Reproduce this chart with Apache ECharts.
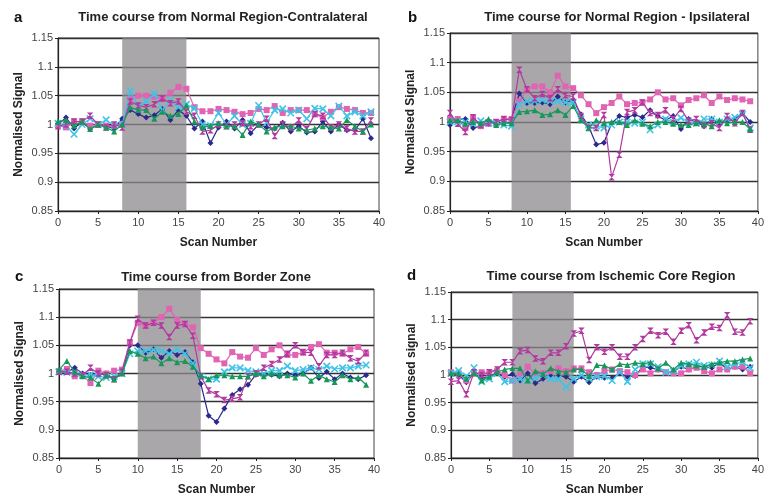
<!DOCTYPE html>
<html><head><meta charset="utf-8">
<script src="https://cdn.jsdelivr.net/npm/echarts@6/dist/echarts.min.js"></script>
<style>html,body{margin:0;padding:0;background:#fff}#c{width:767px;height:498px}</style>
</head><body><div id="c"></div>
<script>
const scanNumbers = [0,1,2,3,4,5,6,7,8,9,10,11,12,13,14,15,16,17,18,19,20,21,22,23,24,25,26,27,28,29,30,31,32,33,34,35,36,37,38,39];
const yTicks = [0.85,0.9,0.95,1,1.05,1.1,1.15];
const panelTitles = ['Time course from Normal Region-Contralateral','Time course for Normal Region - Ipsilateral','Time course from Border Zone','Time course from Ischemic Core Region'];
const panelLetters = ['a','b','c','d'];
const yNames = ['Normalised Signal','Normalised Signal','Normalised Signal','Normalised signal'];
const xName = 'Scan Number';
const stimStart = [8,8,10,8];
const stimEnd = [16,15.7,18,16];

// Panel a
const a_navy = [1.0,1.012,0.993,1.005,0.992,1.0,0.997,0.993,1.01,1.025,1.018,1.012,1.016,1.027,1.008,1.025,1.015,0.993,1.005,0.968,0.995,1.005,0.993,1.008,0.985,1.0,0.995,0.993,1.003,0.988,0.997,0.986,0.988,1.005,0.988,1.0,0.99,0.99,1.01,0.976];
const a_pink = [0.998,0.995,1.005,1.005,0.998,1.0,0.998,0.998,1.0,1.045,1.05,1.05,1.048,1.045,1.055,1.065,1.062,1.03,1.023,1.023,1.027,1.025,1.022,1.018,1.02,1.027,1.025,1.032,1.02,1.025,1.025,1.025,1.018,1.012,1.022,1.03,1.027,1.025,1.02,1.02];
const a_cyan = [1.002,0.998,0.983,1.0,1.01,1.0,1.008,0.998,1.0,1.058,1.032,1.04,1.053,1.025,1.042,1.03,1.035,1.028,1.0,0.998,1.02,1.0,1.015,1.0,1.002,1.033,1.003,1.025,1.027,1.02,1.025,1.01,1.028,1.027,1.015,1.032,1.015,1.022,1.015,1.022];
const a_purple = [0.997,1.0,1.005,1.005,1.015,1.0,0.995,1.0,0.995,1.04,1.033,1.03,1.035,1.045,1.037,1.04,1.022,1.015,0.988,0.99,1.0,0.997,1.0,1.002,0.997,1.0,1.01,0.98,1.0,0.995,1.007,0.992,1.018,1.015,0.995,1.0,0.993,0.988,0.988,1.007];
const a_green = [1.005,1.008,0.998,1.005,0.992,1.0,0.995,0.988,1.0,1.03,1.025,1.025,1.01,1.022,1.015,1.018,1.033,1.005,0.995,0.998,1.002,0.997,0.997,0.982,1.005,1.0,0.988,0.995,0.997,0.997,0.993,0.99,0.993,0.997,0.995,0.993,1.008,0.997,0.988,1.0];
// Panel b
const b_navy = [0.995,1.005,1.005,0.99,0.993,0.997,1.0,1.005,1.005,1.048,1.032,1.032,1.033,1.03,1.043,1.033,1.037,1.013,0.993,0.962,0.965,0.998,1.01,1.008,1.012,1.008,1.02,1.01,1.003,1.01,0.988,1.005,1.0,0.993,1.005,0.997,1.002,1.005,1.015,1.0];
const b_pink = [1.005,1.005,0.99,1.007,0.993,1.0,1.0,1.005,1.005,1.035,1.055,1.06,1.06,1.05,1.078,1.06,1.057,1.045,1.03,1.015,1.025,1.032,1.043,1.03,1.032,1.033,1.038,1.05,1.038,1.04,1.028,1.037,1.04,1.045,1.032,1.043,1.037,1.04,1.038,1.035];
const b_cyan = [1.0,1.0,1.0,0.997,1.002,0.998,0.998,0.995,0.993,1.03,1.035,1.035,1.037,1.035,1.035,1.033,1.033,1.005,0.995,0.993,0.99,0.995,1.0,1.0,0.998,1.0,0.987,0.995,1.005,1.0,1.007,1.0,0.998,1.005,1.005,1.0,1.005,1.008,1.013,0.99];
const b_purple = [1.015,0.997,0.983,1.008,0.995,0.998,1.0,1.005,1.003,1.088,1.055,1.04,1.047,1.04,1.055,1.045,1.043,1.01,0.99,0.99,1.012,0.907,0.945,1.017,1.02,1.033,1.015,1.012,1.02,1.005,1.022,1.002,1.005,0.995,0.998,0.99,1.01,0.998,1.015,0.987];
const b_green = [1.003,1.003,0.997,1.0,0.998,1.005,0.995,0.998,0.998,1.017,1.018,1.02,1.012,1.013,1.02,1.012,1.027,1.003,0.99,1.003,0.998,1.0,1.0,0.995,1.003,0.997,0.993,1.0,1.0,0.997,0.995,0.995,0.998,0.997,0.993,1.003,0.998,1.0,1.0,0.988];
// Panel c
const c_navy = [1.003,1.003,1.01,1.0,0.997,0.997,1.0,0.99,1.0,1.05,1.05,1.037,1.043,1.028,1.04,1.033,1.038,1.02,0.982,0.925,0.914,0.938,0.962,0.972,0.98,0.998,0.997,0.998,0.995,1.0,0.997,1.0,1.01,0.992,1.003,0.99,1.0,0.993,0.99,0.997];
const c_pink = [1.003,1.008,0.995,0.997,0.983,1.005,1.0,1.005,1.007,1.055,1.09,1.085,1.09,1.1,1.115,1.095,1.088,1.082,1.045,1.035,1.025,1.018,1.038,1.03,1.028,1.045,1.033,1.043,1.05,1.033,1.033,1.037,1.047,1.052,1.037,1.037,1.035,1.043,1.047,1.035];
const c_cyan = [1.003,1.002,1.0,0.997,0.998,0.995,0.993,0.995,1.0,1.035,1.04,1.04,1.042,1.04,1.035,1.043,1.035,1.018,0.995,0.99,0.99,1.003,1.01,1.01,1.005,1.003,1.0,1.005,1.005,1.013,1.005,1.007,1.01,1.007,1.013,1.008,1.01,1.01,1.013,1.015];
const c_purple = [1.003,1.003,1.0,0.997,1.01,1.0,0.997,0.99,1.003,1.055,1.097,1.085,1.09,1.085,1.065,1.085,1.088,1.067,0.995,0.97,0.963,0.953,0.955,0.958,0.995,1.0,1.01,1.017,1.025,1.035,1.05,1.038,1.037,1.013,1.033,1.033,1.037,1.027,1.022,1.037];
const c_green = [1.007,1.022,1.003,0.995,0.993,0.982,0.997,0.99,1.0,1.04,1.035,1.027,1.03,1.018,1.027,1.02,1.022,1.012,0.997,0.99,0.997,0.997,0.995,0.995,0.995,1.0,0.995,1.0,0.997,0.997,0.993,1.0,0.987,0.997,0.99,0.985,0.997,0.99,0.993,0.98];
// Panel d
const d_navy = [1.003,1.0,0.987,1.003,0.995,0.997,1.005,0.997,1.002,0.99,1.003,0.985,0.993,0.998,0.998,0.997,0.988,0.997,0.987,0.997,0.995,0.995,1.003,0.997,0.998,1.015,1.013,1.01,1.003,1.007,1.015,1.01,1.015,1.015,1.013,1.023,1.01,1.015,1.01,1.015];
const d_pink = [1.005,1.003,0.99,1.003,1.005,1.005,1.007,1.0,0.99,1.0,1.015,1.003,1.003,1.007,1.012,1.007,1.012,1.012,1.005,1.0,1.007,1.01,1.007,1.005,1.0,1.01,1.003,1.01,1.005,1.003,1.003,1.01,1.013,1.007,1.003,1.01,1.01,1.015,1.015,1.003];
const d_cyan = [1.003,1.008,0.998,1.013,0.988,0.993,1.003,0.988,0.99,0.993,0.99,0.995,1.0,0.993,0.993,0.978,0.993,1.0,0.993,0.997,0.998,0.99,1.005,0.988,1.01,1.02,1.02,1.015,1.005,1.007,1.017,1.02,1.023,1.017,1.018,1.025,1.015,1.02,1.023,1.013];
const d_purple = [0.988,0.99,0.965,1.005,1.0,1.005,1.01,1.023,1.023,1.043,1.045,1.03,1.025,1.04,1.04,1.052,1.075,1.08,1.027,1.05,1.042,1.05,1.033,1.033,1.05,1.065,1.08,1.072,1.078,1.06,1.08,1.09,1.063,1.077,1.087,1.085,1.108,1.078,1.077,1.097];
const d_green = [1.003,1.003,0.993,1.003,0.99,0.997,1.005,1.01,1.012,1.012,0.99,1.007,1.002,1.012,1.007,1.005,1.01,1.01,0.998,1.018,1.017,1.01,1.02,1.018,1.022,1.02,1.023,1.012,1.022,1.01,1.022,1.02,1.017,1.015,1.02,1.022,1.025,1.025,1.028,1.03];

const panelData = [
  [a_navy,a_pink,a_cyan,a_purple,a_green],
  [b_navy,b_pink,b_cyan,b_purple,b_green],
  [c_navy,c_pink,c_cyan,c_purple,c_green],
  [d_navy,d_pink,d_cyan,d_purple,d_green]
];

const colors = ['#2b2a8c','#e163b3','#3ec4e6','#b1399f','#17985a'];
const symbols = ['diamond','rect','path://M0,0L10,10M10,0L0,10','path://M0,0L10,0L0,10L10,10Z','triangle'];

const grids = [
  {left:58, top:38, width:321, height:173},
  {left:450, top:33, width:314, height:178},
  {left:59, top:289, width:315, height:169},
  {left:451, top:292, width:313, height:166}
];
const titlePos = [[218,6],[612,6],[211,266],[606,265]];
const letterPos = [[9,5],[403,5],[10,264],[402,263]];

const FONT = '"Liberation Sans", Arial, sans-serif';
const option = {
  animation:false,
  backgroundColor:'#fff',
  title: [],
  grid: grids.map(g=>Object.assign({show:true, borderColor:'#444', borderWidth:1, backgroundColor:'#fff'}, g)),
  xAxis: [], yAxis: [], series: []
};
for (let p=0;p<4;p++){
  option.title.push({text:panelTitles[p], left:titlePos[p][0], top:titlePos[p][1], textAlign:'center',
    textStyle:{fontFamily:FONT,fontSize:13,fontWeight:'bold',color:'#222'}});
  option.title.push({text:panelLetters[p], left:letterPos[p][0], top:letterPos[p][1],
    textStyle:{fontFamily:FONT,fontSize:15,fontWeight:'bold',color:'#111'}});
  option.xAxis.push({type:'value', gridIndex:p, min:0, max:40, interval:5,
    name:xName, nameLocation:'middle', nameGap:26,
    nameTextStyle:{fontFamily:FONT,fontSize:12,fontWeight:'bold',color:'#222'},
    axisLine:{show:true,onZero:false,lineStyle:{color:'#222',width:1.2}},
    axisTick:{show:true,length:3,inside:false,lineStyle:{color:'#222'}},
    axisLabel:{fontFamily:FONT,fontSize:11,color:'#444',margin:6},
    splitLine:{show:false}});
  option.yAxis.push({type:'value', gridIndex:p, min:0.85, max:1.15, interval:0.05,
    name:yNames[p], nameLocation:'middle', nameGap:33, nameRotate:90,
    nameTextStyle:{fontFamily:FONT,fontSize:12,fontWeight:'bold',color:'#222'},
    axisLine:{show:true,lineStyle:{color:'#222',width:1.2}},
    axisTick:{show:true,length:3,lineStyle:{color:'#222'}},
    axisLabel:{fontFamily:FONT,fontSize:11,color:'#444',margin:5, formatter:v=>String(+(+v).toFixed(2))},
    splitLine:{show:true,lineStyle:{color:'#333',width:1.3}}});
  option.series.push({type:'line', xAxisIndex:p, yAxisIndex:p, data:[], silent:true,
    markArea:{silent:true, itemStyle:{color:'#8e898f',opacity:0.75},
      data:[[{xAxis:stimStart[p]},{xAxis:stimEnd[p]}]]}});
  for (let s=0;s<5;s++){
    const arr = panelData[p][s];
    const isPath = s===2;
    option.series.push({type:'line', xAxisIndex:p, yAxisIndex:p,
      data: scanNumbers.map((x,i)=>[x, arr[i]]),
      symbol:symbols[s], symbolSize: (s===2||s===3)?6.5:6, showSymbol:true,
      lineStyle:{color:colors[s], width:1.2},
      itemStyle:{color: isPath? 'none' : colors[s], borderColor:colors[s], borderWidth: isPath?1.6:0},
      z: 3+s});
  }
}
const chart = echarts.init(document.getElementById('c'), null, {renderer:'canvas'});
chart.setOption(option);
</script></body></html>
